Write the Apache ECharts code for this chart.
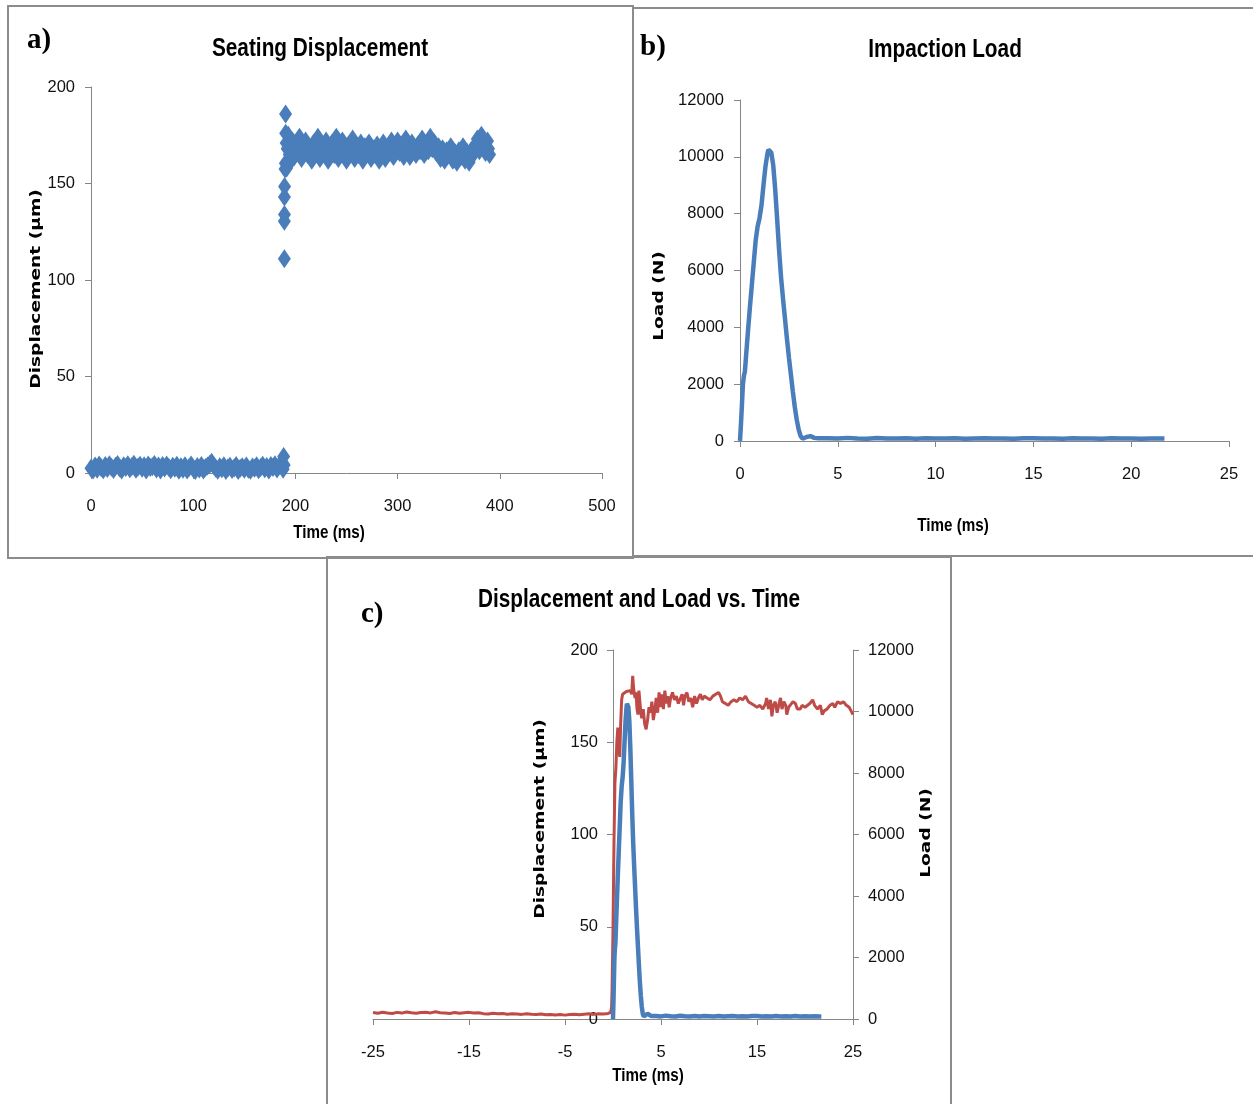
<!DOCTYPE html>
<html>
<head>
<meta charset="utf-8">
<script src="https://cdn.jsdelivr.net/npm/echarts@6/dist/echarts.min.js"></script>
<style>
  html, body { margin: 0; padding: 0; background: #fff; }
  #chart { width: 1253px; height: 1104px; }
</style>
</head>
<body>
<div id="chart"></div>
<script>
// ---- a) seating displacement, µm vs ms (before and after the impact) ----
const seatingBefore = [
  [0,2.4],[2,1.6],[4,3.6],[6,2.0],[8,4.1],[10,2.7],[12,1.7],[14,3.9],[16,2.3],[18,4.3],
  [20,3.0],[22,1.8],[24,3.5],[26,4.4],[28,2.6],[30,1.6],[32,3.8],[34,2.9],[36,4.3],[38,2.2],
  [40,3.4],[42,4.5],[44,1.9],[46,3.1],[48,4.0],[50,2.5],[52,3.7],[54,1.6],[56,4.2],[58,2.8],
  [60,3.3],[62,4.4],[64,2.1],[66,3.6],[68,1.5],[70,3.9],[72,2.6],[74,4.1],[76,3.0],[78,1.7],
  [80,3.5],[82,2.4],[84,4.0],[86,1.4],[88,3.2],[90,2.0],[92,3.8],[94,1.5],[96,2.9],[98,4.2],
  [100,2.3],[102,1.3],[104,3.4],[106,2.1],[108,3.9],[110,1.6],[112,2.8],[114,3.6],[116,4.4],[118,5.6],
  [120,3.9],[122,2.5],[124,1.4],[126,3.3],[128,2.2],[130,3.7],[132,1.3],[134,2.7],[136,3.5],[138,1.8],
  [140,2.6],[142,3.9],[144,1.3],[146,2.4],[148,3.2],[150,1.9],[152,3.6],[154,2.0],[156,1.4],[158,3.1],
  [160,2.5],[162,3.8],[164,1.7],[166,2.9],[168,4.0],[170,2.2],[172,3.4],[174,1.6],[176,3.9],[178,2.8],
  [180,4.3],[182,2.1],[184,3.7],[186,4.5],[188,2.0],[188.5,8.6],[189,4.2]
];
const seatingRise = [
  [189.2,111],[189.2,130.5],[189.3,134],[189.3,143],[189.4,148.5],[189.9,157.5],[190.2,160.5],[190.4,186]
];
const seatingAfter = [
  [190.5,176],[191,171],[191.5,158],[192,168],[193,175],[194,165],[195,170],[196,162],[197,172],[198,167],
  [199,164],[200,171],[202,166],[204,174],[206,163],[208,169],[210,172],[212,165],[214,168],[216,162],
  [218,171],[220,167],[222,174],[224,163],[226,169],[228,166],[230,172],[232,162],[234,168],[236,171],
  [238,165],[240,174],[242,163],[244,169],[246,172],[248,166],[250,162],[252,170],[254,167],[256,173],
  [258,163],[260,168],[262,165],[264,171],[266,162],[268,169],[270,166],[272,171],[274,163],[276,168],
  [278,165],[280,170],[282,162],[284,167],[286,171],[288,163],[290,168],[292,166],[294,172],[296,164],
  [298,169],[300,172],[302,166],[304,170],[306,164],[308,173],[310,167],[312,164],[314,171],[316,168],
  [318,165],[320,170],[322,167],[324,173],[326,165],[328,169],[330,167],[332,174],[334,168],[336,171],
  [338,166],[340,169],[342,163],[344,168],[346,162],[348,167],[350,165],[352,169],[354,162],[356,166],
  [358,161],[360,167],[362,164],[364,169],[366,162],[368,166],[370,161],[372,167],[374,165],[376,170],
  [378,173],[380,167],[382,175],[384,170],[386,166],[388,172],[389,168],[390,165]
];

// ---- b) impaction load, N vs ms ----
const impactionLoad = [
  [0,0],[0.05,600],[0.1,1300],[0.15,2000],[0.2,2300],[0.25,2450],[0.3,2900],[0.4,3800],[0.5,4650],
  [0.6,5450],[0.7,6250],[0.8,7050],[0.9,7550],[1.0,7850],[1.1,8300],[1.2,9000],[1.3,9650],[1.4,10100],
  [1.45,10250],[1.5,10280],[1.55,10250],[1.6,10150],[1.7,9700],[1.8,8850],[1.9,7800],[2.0,6700],
  [2.1,5750],[2.2,5000],[2.3,4300],[2.4,3600],[2.5,2950],[2.6,2350],[2.7,1750],[2.8,1200],[2.9,750],
  [3.0,400],[3.1,170],[3.2,80],[3.4,140],[3.6,170],[3.8,110],[4.0,95],[4.5,100],[5,85],[5.5,110],
  [6,90],[6.5,80],[7,105],[7.5,90],[8,85],[8.5,100],[9,80],[9.5,95],[10,90],[10.5,85],[11,100],
  [11.5,80],[12,90],[12.5,95],[13,85],[13.5,90],[14,80],[14.5,95],[15,100],[15.5,85],[16,90],
  [16.5,80],[17,95],[17.5,85],[18,90],[18.5,80],[19,95],[19.5,85],[20,90],[20.5,80],[21,90],
  [21.5,85],[21.7,85]
];

// ---- c) displacement around the impact, µm vs ms (0 = start of load) ----
const displacementAroundImpact = [
  [-25,3.5],[-24.5,3.1],[-24,3.7],[-23.5,3.3],[-23,3.0],[-22.5,3.6],[-22,3.2],[-21.5,3.8],[-21,3.4],
  [-20.5,3.1],[-20,3.5],[-19.5,3.7],[-19,3.3],[-18.5,3.9],[-18,3.4],[-17.5,3.2],[-17,3.0],[-16.5,3.5],
  [-16,3.1],[-15.5,3.4],[-15,3.6],[-14.5,3.2],[-14,3.4],[-13.5,2.9],[-13,2.7],[-12.5,3.1],[-12,2.8],
  [-11.5,3.0],[-11,2.6],[-10.5,2.9],[-10,2.7],[-9.5,2.5],[-9,2.9],[-8.5,2.6],[-8,2.4],[-7.5,2.7],
  [-7,2.3],[-6.5,2.5],[-6,2.2],[-5.5,2.4],[-5,2.1],[-4.5,2.4],[-4,2.6],[-3.5,2.3],[-3,2.6],
  [-2.5,2.8],[-2,2.5],[-1.5,2.9],[-1,2.7],[-0.5,3.0],[-0.25,3.6],[-0.15,6],
  [-0.1,15],[0,48],[0.1,95],[0.2,128],[0.3,136],[0.4,150],[0.5,158],[0.6,149],[0.7,142],[0.8,160],
  [0.9,173],[1.0,176],[1.2,176.5],[1.4,177.5],[1.6,177],[1.8,178],[1.95,176],[2.05,186],[2.15,179],
  [2.3,174],[2.4,177],[2.5,168],[2.6,165],[2.7,178],[2.8,172],[2.9,166],[3.0,163],[3.15,168],
  [3.3,160],[3.45,157],[3.6,162],[3.75,169],[3.9,166],[4.05,172],[4.2,162],[4.35,167],[4.5,174],
  [4.65,166],[4.8,177],[4.95,169],[5.1,176],[5.25,168],[5.4,178],[5.55,171],[5.7,175],[5.85,169],
  [6.0,174],[6.2,177],[6.4,173],[6.6,175],[6.8,171],[7.0,172],[7.2,176],[7.35,170],[7.5,175],
  [7.7,177],[7.9,172],[8.1,174],[8.3,169],[8.5,175],[8.7,171],[8.9,174],[9.1,176],[9.3,173],
  [9.5,175],[9.8,174],[10.1,173],[10.4,175],[10.7,176],[11.0,177],[11.2,175],[11.4,172],[11.7,171],
  [12.0,170],[12.3,172],[12.6,173],[12.9,172],[13.2,174],[13.5,173],[13.8,175],[14.1,172],[14.4,171],
  [14.7,170],[15.0,169],[15.3,170],[15.6,168],[15.9,171],[16.0,174],[16.2,168],[16.4,173],[16.55,164],
  [16.7,170],[16.9,172],[17.1,166],[17.3,171],[17.45,174],[17.6,168],[17.8,172],[18.0,170],[18.1,165],
  [18.3,169],[18.5,168],[18.75,172],[19.0,171],[19.2,168],[19.5,168],[19.7,170],[20.0,169],[20.2,168],
  [20.5,171],[20.8,173],[21.0,170],[21.3,168],[21.6,170],[21.8,165],[22.0,167],[22.3,168],[22.6,170],
  [22.9,171],[23.1,169],[23.4,172],[23.7,171],[24.0,172],[24.3,170],[24.6,169],[24.8,167],[25.0,165]
];

// ---- axis ranges and tick steps ----
const axisA = { xMin: 0, xMax: 500, xStep: 100, yMin: 0, yMax: 200, yStep: 50 };
const axisB = { xMin: 0, xMax: 25, xStep: 5, yMin: 0, yMax: 12000, yStep: 2000 };
const axisC = { xMin: -25, xMax: 25, xStep: 10, yMin: 0, yMax: 200, yStep: 50, y2Min: 0, y2Max: 12000, y2Step: 2000 };

const BLUE = '#4A7EBB';
const RED = '#BE4B48';
const AXIS_GREY = '#868686';
const FRAME_GREY = '#8C8C8C';
const SANS = "'Liberation Sans', Arial, sans-serif";
const WIDE_BOLD = "'DejaVu Sans', Verdana, sans-serif";
const SERIF = "'Liberation Serif', 'DejaVu Serif', serif";

const tickLabel = { fontFamily: SANS, fontSize: 16.5, color: '#111', formatter: (v) => String(v) };

function valueAxis(gridIndex, min, max, step, margin, extra) {
  return Object.assign({
    type: 'value', gridIndex, min, max, interval: step,
    splitLine: { show: false },
    axisLine: { show: true, onZero: false, lineStyle: { color: AXIS_GREY, width: 1 } },
    axisTick: { show: true, length: 6, lineStyle: { color: AXIS_GREY } },
    axisLabel: Object.assign({ margin }, tickLabel)
  }, extra || {});
}

// narrow bold lettering: bold sans squeezed horizontally
function narrowText(text, x, y, size, align) {
  return { type: 'text', x, y, scaleX: 0.8, style: {
    text, fontFamily: SANS, fontSize: size, fontWeight: 'bold', fill: '#000',
    textAlign: align || 'center', textVerticalAlign: 'middle', align: align || 'center', verticalAlign: 'middle' } };
}
function panelTag(text, x, y) {
  return { type: 'text', x, y, style: {
    text, fontFamily: SERIF, fontSize: 29, fontWeight: 'bold', fill: '#000',
    textAlign: 'left', textVerticalAlign: 'middle', align: 'left', verticalAlign: 'middle' } };
}
// vertical axis titles, wide bold lettering reading bottom to top
function yTitle(text, x, y) {
  return { type: 'text', x, y, rotation: Math.PI / 2, scaleX: 1.33, style: {
    text, fontFamily: WIDE_BOLD, fontSize: 14, fontWeight: 'bold', fill: '#000',
    textAlign: 'center', textVerticalAlign: 'middle', align: 'center', verticalAlign: 'middle' } };
}
const frame = { stroke: FRAME_GREY, lineWidth: 2, fill: null };

const chart = echarts.init(document.getElementById('chart'), null, { renderer: 'canvas' });

chart.setOption({
  backgroundColor: '#fff',
  animation: false,
  grid: [
    { left: 91, right: 651, top: 87, bottom: 631 },
    { left: 740, right: 24, top: 100, bottom: 663 },
    { left: 373, right: 400, top: 650, bottom: 85 }
  ],
  xAxis: [
    valueAxis(0, axisA.xMin, axisA.xMax, axisA.xStep, 25),
    valueAxis(1, axisB.xMin, axisB.xMax, axisB.xStep, 25),
    valueAxis(2, axisC.xMin, axisC.xMax, axisC.xStep, 25)
  ],
  yAxis: [
    valueAxis(0, axisA.yMin, axisA.yMax, axisA.yStep, 16),
    valueAxis(1, axisB.yMin, axisB.yMax, axisB.yStep, 16),
    // displacement axis drawn at t = 0 (half-way across the 50 ms window)
    valueAxis(2, axisC.yMin, axisC.yMax, axisC.yStep, 15, { offset: -240 }),
    valueAxis(2, axisC.y2Min, axisC.y2Max, axisC.y2Step, 15, { position: 'right' })
  ],
  series: [
    {
      name: 'Seating displacement', type: 'scatter', xAxisIndex: 0, yAxisIndex: 0,
      data: seatingBefore.concat(seatingRise, seatingAfter),
      symbol: 'diamond', symbolSize: [13, 19],
      itemStyle: { color: BLUE, opacity: 1 }
    },
    {
      name: 'Impaction load', type: 'line', xAxisIndex: 1, yAxisIndex: 1,
      data: impactionLoad, showSymbol: false, symbol: 'none',
      lineStyle: { color: BLUE, width: 4.5 }
    },
    {
      name: 'Displacement', type: 'line', xAxisIndex: 2, yAxisIndex: 2,
      data: displacementAroundImpact, showSymbol: false, symbol: 'none',
      lineStyle: { color: RED, width: 3 }
    },
    {
      name: 'Load', type: 'line', xAxisIndex: 2, yAxisIndex: 3,
      data: impactionLoad, showSymbol: false, symbol: 'none',
      lineStyle: { color: BLUE, width: 4.5 }
    }
  ],
  graphic: [
    // panel frames
    { type: 'rect', shape: { x: 8, y: 6, width: 625, height: 552 }, style: frame, silent: true },
    { type: 'polyline', shape: { points: [[1260, 8], [633, 8], [633, 556], [1260, 556]] }, style: frame, silent: true },
    { type: 'rect', shape: { x: 327, y: 557, width: 624, height: 560 }, style: frame, silent: true },

    panelTag('a)', 27, 41),
    panelTag('b)', 640, 48),
    panelTag('c)', 361, 615),

    narrowText('Seating Displacement', 320, 49, 26),
    narrowText('Impaction Load', 945, 50, 26),
    narrowText('Displacement and Load vs. Time', 639, 600, 26),

    narrowText('Time (ms)', 329, 533, 19),
    narrowText('Time (ms)', 953, 526, 19),
    narrowText('Time (ms)', 648, 1076, 19),

    yTitle('Displacement (µm)', 36, 289),
    yTitle('Load (N)', 659, 296),
    yTitle('Displacement (µm)', 540, 819),
    yTitle('Load (N)', 926, 833)
  ]
});
</script>
</body>
</html>
